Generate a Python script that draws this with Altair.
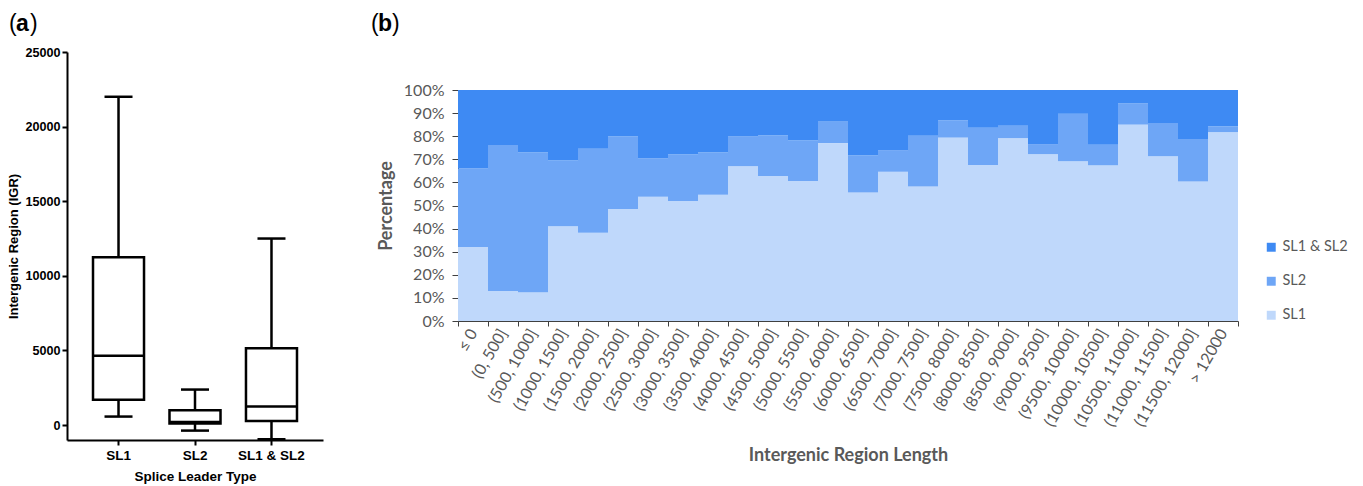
import altair as alt
import pandas as pd

# ---------- panel (a): five-number summaries per splice leader type ----------
sl_types = ["SL1", "SL2", "SL1 & SL2"]
whisker_low = [570, -370, -950]
q1 = [1700, 100, 280]
median = [4650, 200, 1250]
q3 = [11250, 1000, 5150]
whisker_high = [22000, 2380, 12500]

# ---------- panel (b): share of genes per intergenic-length bin (%) ----------
length_bins = [
    "≤ 0", "(0, 500]", "(500, 1000]", "(1000, 1500]", "(1500, 2000]",
    "(2000, 2500]", "(2500, 3000]", "(3000, 3500]", "(3500, 4000]",
    "(4000, 4500]", "(4500, 5000]", "(5000, 5500]", "(5500, 6000]",
    "(6000, 6500]", "(6500, 7000]", "(7000, 7500]", "(7500, 8000]",
    "(8000, 8500]", "(8500, 9000]", "(9000, 9500]", "(9500, 10000]",
    "(10000, 10500]", "(10500, 11000]", "(11000, 11500]", "(11500, 12000]",
    "> 12000",
]
pct_sl1 = [32.0, 13.0, 12.5, 41.0, 38.2, 48.5, 53.8, 52.0, 54.6, 67.0, 62.8, 60.6, 77.0,
           55.6, 64.6, 58.2, 79.4, 67.5, 79.2, 72.2, 69.2, 67.4, 85.0, 71.3, 60.4, 81.8]
pct_sl2 = [34.0, 63.2, 60.5, 28.6, 36.4, 31.5, 16.6, 20.2, 18.4, 13.0, 17.6, 17.7, 9.3,
           16.2, 9.4, 22.0, 7.5, 16.2, 5.3, 4.4, 20.5, 8.9, 9.3, 14.4, 18.4, 2.5]
pct_both = [34.0, 23.8, 27.0, 30.4, 25.4, 20.0, 29.6, 27.8, 27.0, 20.0, 19.6, 21.7, 13.7,
            28.2, 26.0, 19.8, 13.1, 16.3, 15.5, 23.4, 10.3, 23.7, 5.7, 14.3, 21.2, 15.7]

series_names = ["SL1 & SL2", "SL2", "SL1"]
series_colors = ["#3E8AF3", "#6EA6F6", "#BFD8FB"]

ARIAL = "Liberation Sans"
CALIBRI = "Lato"
GREY = "#595959"

box_df = pd.DataFrame({
    "type": sl_types, "low": whisker_low, "q1": q1,
    "median": median, "q3": q3, "high": whisker_high,
})

rows = []
for i, b in enumerate(length_bins):
    rows.append({"bin": b, "series": "SL1", "pct": pct_sl1[i], "stack": 0})
    rows.append({"bin": b, "series": "SL2", "pct": pct_sl2[i], "stack": 1})
    rows.append({"bin": b, "series": "SL1 & SL2", "pct": pct_both[i], "stack": 2})
share_df = pd.DataFrame(rows)


def label(text, x, y, weight="normal"):
    return alt.Chart(pd.DataFrame({"t": [text]})).mark_text(
        font=ARIAL, fontSize=23, fontWeight=weight, align="left",
        baseline="alphabetic", color="black",
    ).encode(text="t:N", x=alt.value(x), y=alt.value(y))


# ---------- panel (a) ----------
xa = alt.X(
    "type:N", sort=sl_types,
    scale=alt.Scale(paddingInner=0.333, paddingOuter=0.34),
    axis=alt.Axis(
        title="Splice Leader Type", labelAngle=0, labelFont=ARIAL, labelFontWeight="bold",
        labelFontSize=13.5, labelColor="black", labelPadding=3,
        titleFont=ARIAL, titleFontWeight="bold", titleFontSize=13.5, titleColor="black",
        titlePadding=8, domainColor="black", domainWidth=2, tickColor="black",
        tickWidth=2, tickSize=5,
    ),
)
ya_scale = alt.Scale(domain=[-1000, 25000], nice=False, zero=False)
ya_axis = alt.Axis(
    title="Intergenic Region (IGR)", values=[0, 5000, 10000, 15000, 20000, 25000],
    format="d", grid=False, labelFont=ARIAL, labelFontWeight="bold", labelFontSize=12.6,
    labelColor="black", titleFont=ARIAL, titleFontWeight="bold", titleFontSize=13,
    titleColor="black", titlePadding=4, domainColor="black", domainWidth=2,
    tickColor="black", tickWidth=2, tickSize=5, labelPadding=2,
)

box_base = alt.Chart(box_df).encode(x=xa)
whisker = box_base.mark_rule(color="black", strokeWidth=2.5).encode(
    y=alt.Y("low:Q", scale=ya_scale, axis=ya_axis), y2="high:Q")
box = box_base.mark_bar(fill="white", stroke="black", strokeWidth=2.5, opacity=1).encode(
    y=alt.Y("q1:Q"), y2="q3:Q")
med = box_base.mark_tick(color="black", thickness=2.5, size=51, opacity=1).encode(y="median:Q")
cap_lo = box_base.mark_tick(color="black", thickness=2.5, size=28, opacity=1).encode(y="low:Q")
cap_hi = box_base.mark_tick(color="black", thickness=2.5, size=28, opacity=1).encode(y="high:Q")

panel_a = alt.layer(
    whisker, box, med, cap_lo, cap_hi,
    label("(", -58, -21), label("a", -51, -21, "bold"), label(")", -37, -21),
).properties(width=256, height=388)

# ---------- panel (b) ----------
# the group is 269 px tall; the percentage axis occupies its lower 231 px
bars = alt.Chart(share_df).mark_bar().encode(
    x=alt.X(
        "bin:N", sort=length_bins,
        scale=alt.Scale(paddingInner=0, paddingOuter=0),
        axis=alt.Axis(
            title="Intergenic Region Length", tickBand="extent", labelAngle=-60,
            labelAlign="right", labelBaseline="middle", labelFont=CALIBRI,
            labelFontSize=16, labelColor=GREY, labelPadding=4,
            titleFont=CALIBRI, titleFontSize=18, titleFontWeight="bold",
            titleColor=GREY, titlePadding=18, domainColor="#404040",
            tickColor="#404040", tickSize=5, labelOverlap=False,
        ),
    ),
    y=alt.Y(
        "pct:Q", stack="zero",
        scale=alt.Scale(domain=[0, 100], nice=False, range=[269, 38]),
        axis=alt.Axis(
            title="Percentage", values=list(range(0, 101, 10)),
            labelExpr="datum.value + '%'", grid=False, labelFont=CALIBRI,
            labelFontSize=16, labelColor=GREY, labelPadding=8, titleFont=CALIBRI,
            titleFontSize=18, titleFontWeight="bold", titleColor=GREY, titlePadding=8,
            domainColor="#404040", tickColor="#404040", tickSize=6,
        ),
    ),
    color=alt.Color(
        "series:N",
        scale=alt.Scale(domain=series_names, range=series_colors),
        legend=alt.Legend(
            title=None, orient="none", legendX=1197, legendY=188,
            symbolType="square", symbolSize=80, symbolStrokeWidth=0,
            symbolOpacity=1, labelFont=CALIBRI, labelFontSize=14.5, labelColor=GREY,
            rowPadding=19, labelOffset=4,
        ),
    ),
    order=alt.Order("stack:Q"),
)

panel_b = alt.layer(
    bars,
    label("(", -87, -21), label("b", -80, -21, "bold"), label(")", -66, -21),
).properties(width=780, height=269)

chart = alt.hconcat(panel_a, panel_b, spacing=48).properties(
    padding={"left": 7, "top": 13, "right": 5, "bottom": 5},
).configure_view(stroke=None)

chart.save("out.html", embed_options={"renderer": "svg", "actions": False})
